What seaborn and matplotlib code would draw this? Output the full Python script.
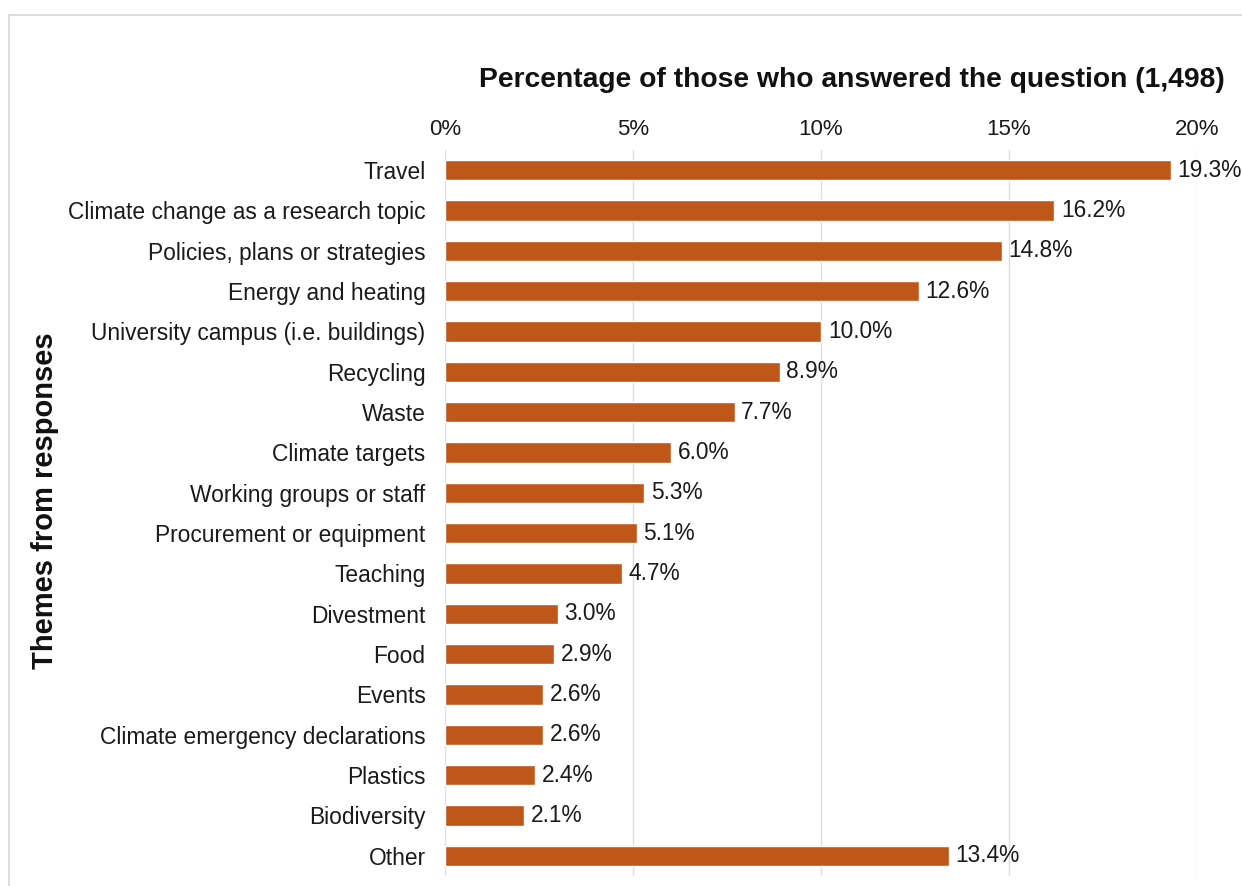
import matplotlib
matplotlib.use("Agg")
import matplotlib.pyplot as plt
import seaborn as sns
import pandas as pd
from matplotlib.lines import Line2D

categories = ["Travel", "Climate change as a research topic", "Policies, plans or strategies",
              "Energy and heating", "University campus (i.e. buildings)", "Recycling", "Waste",
              "Climate targets", "Working groups or staff", "Procurement or equipment", "Teaching",
              "Divestment", "Food", "Events", "Climate emergency declarations", "Plastics",
              "Biodiversity", "Other"]
values = [19.3, 16.2, 14.8, 12.6, 10.0, 8.9, 7.7, 6.0, 5.3, 5.1, 4.7, 3.0, 2.9, 2.6, 2.6, 2.4, 2.1, 13.4]
tick_values = [0, 5, 10, 15, 20]
tick_labels = ["0%", "5%", "10%", "15%", "20%"]

df = pd.DataFrame({"theme": categories, "pct": values})

sns.set_theme(style="white")
plt.rcParams['font.family'] = ['Liberation Sans', 'DejaVu Sans']

fig = plt.figure(figsize=(12.42, 8.86), dpi=100)
ax = fig.add_axes([0.3583, 0.0113, 0.6055, 0.8194])
sns.barplot(data=df, x="pct", y="theme", color="#C0571A", saturation=1, width=0.5, ax=ax, orient="h")

ax.set_xlim(0, 20)
ax.set_ylim(17.5, -0.5)
ax.xaxis.tick_top()
ax.xaxis.set_label_position("top")
ax.set_xticks(tick_values)
ax.set_xticklabels(tick_labels, fontsize=16, color="#1a1a1a")
ax.tick_params(axis="x", length=0, pad=7)
ax.tick_params(axis="y", length=0, pad=14, labelsize=16.4, labelcolor="#1a1a1a")
ax.grid(axis="x", color="#dddddd", linewidth=1)
ax.set_axisbelow(True)
for s in ax.spines.values():
    s.set_visible(False)

ax.set_xlabel("Percentage of those who answered the question (1,498)", fontsize=20.3,
              fontweight="bold", labelpad=23, color="#111111")
ax.xaxis.label.set_x(0.541)
ax.set_ylabel("Themes from responses", fontsize=21, fontweight="bold", color="#111111")
ax.yaxis.set_label_coords(-0.513, 0.5165)

for i, v in enumerate(values):
    ax.text(v + 0.18, i, f"{v:.1f}%", va="center", ha="left", fontsize=16.4, color="#1a1a1a")

# light frame lines at top and left
fig.add_artist(Line2D([0.007, 1.0], [0.983, 0.983], transform=fig.transFigure, color="#d8d8d8", linewidth=1.2))
fig.add_artist(Line2D([0.007, 0.007], [0.0, 0.983], transform=fig.transFigure, color="#d8d8d8", linewidth=1.2))

fig.savefig("out.png", dpi=100)
